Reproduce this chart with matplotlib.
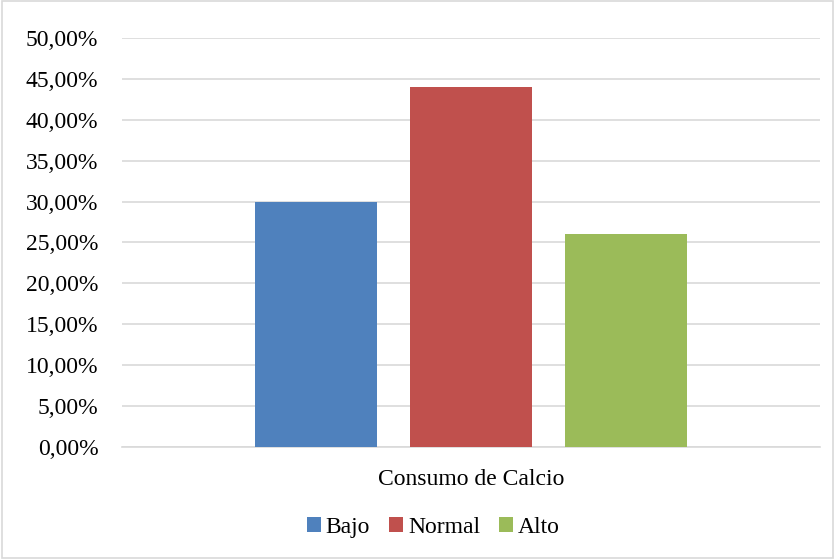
import matplotlib.pyplot as plt
from matplotlib.ticker import FuncFormatter
from matplotlib.patches import Rectangle

# datos
categoria = "Consumo de Calcio"
series = ["Bajo", "Normal", "Alto"]
valores = [0.30, 0.44, 0.26]
colores = ["#4F81BD", "#C0504D", "#9BBB59"]

plt.rcParams["font.family"] = ["Liberation Serif", "DejaVu Serif"]

fig = plt.figure(figsize=(8.35, 5.59), dpi=100)
ax = fig.add_axes([0.146, 0.2004, 0.836, 0.7316])

ancho = 0.1748
paso = 0.222
for i, (nombre, v, c) in enumerate(zip(series, valores, colores)):
    ax.bar((i - 1) * paso, v, width=ancho, color=c, label=nombre, zorder=3)

ax.set_xlim(-0.5, 0.5)
ax.set_ylim(0, 0.5)
ax.set_yticks([i * 0.05 for i in range(11)])
ax.yaxis.set_major_formatter(FuncFormatter(lambda y, _: f"{y * 100:.2f}%".replace(".", ",")))
ax.set_xticks([0])
ax.set_xticklabels([categoria])
ax.tick_params(axis="both", length=0, labelsize=17, colors="black")
ax.tick_params(axis="x", pad=15.5)
ax.tick_params(axis="y", pad=17)
ax.grid(axis="y", color="#d9d9d9", linewidth=1.2, zorder=0)
for s in ["top", "right", "left"]:
    ax.spines[s].set_visible(False)
ax.spines["bottom"].set_color("#d9d9d9")
ax.spines["bottom"].set_linewidth(1.2)

fig.legend(loc="center", bbox_to_anchor=(0.519, 0.057), ncol=3, frameon=False,
           fontsize=17, handlelength=0.6, handleheight=0.6, handletextpad=0.2,
           columnspacing=0.8)

fig.patches.append(Rectangle((0.002, 0.002), 0.996, 0.996, transform=fig.transFigure,
                             fill=False, edgecolor="#d9d9d9", linewidth=1.2))

fig.savefig("out.png", dpi=100)
